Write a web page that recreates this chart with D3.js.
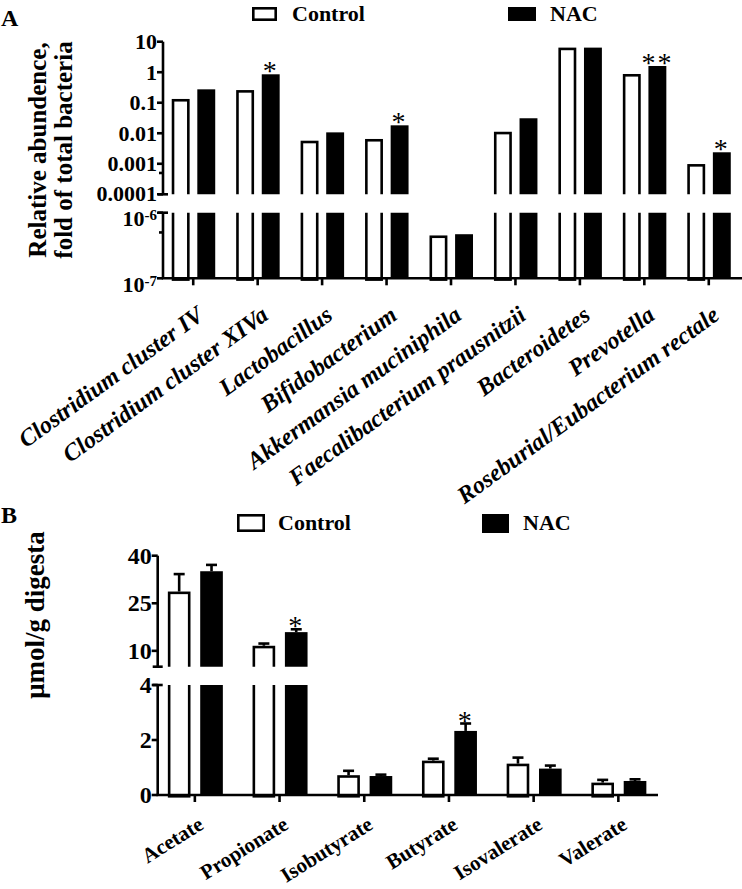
<!DOCTYPE html>
<html>
<head>
<meta charset="utf-8">
<script src="https://cdn.jsdelivr.net/npm/d3@7"></script>
<style>
  html, body { margin: 0; padding: 0; background: #fff; }
  svg { display: block; }
  text { font-family: "Liberation Serif", "Times New Roman", serif; font-weight: bold; fill: #000; }
</style>
</head>
<body>
<svg id="chart" width="742" height="889"></svg>
<script>
// ---------------- DATA ----------------
const groups = ["Control", "NAC"];

// Panel A
const bacteria = ["Clostridium cluster IV", "Clostridium cluster XIVa", "Lactobacillus", "Bifidobacterium",
  "Akkermansia muciniphila", "Faecalibacterium prausnitzii", "Bacteroidetes", "Prevotella",
  "Roseburial/Eubacterium rectale"];
const bactControl = [0.133, 0.26, 0.0057, 0.0065, 4.5e-7, 0.0112, 6.4, 0.875, 0.00098];
const bactNAC     = [0.275, 0.855, 0.0107, 0.0182, 4.7e-7, 0.031, 6.4, 1.6, 0.00238];
const bactSig     = ["", "*", "", "*", "", "", "", "**", "*"];
const aUpperTicks = [10, 1, 0.1, 0.01, 0.001, 0.0001];
const aUpperTickLabels = ["10", "1", "0.1", "0.01", "0.001", "0.0001"];
const aLowerTicks = [1e-6, 1e-7];
const aLowerTickExp = ["-6", "-7"];
const aMinorTicks = [5e-4, 5e-7];

// Panel B
const acids = ["Acetate", "Propionate", "Isobutyrate", "Butyrate", "Isovalerate", "Valerate"];
const acidControl    = [28.7, 11.6, 0.72, 1.25, 1.14, 0.45];
const acidControlErr = [5.5, 0.7, 0.16, 0.07, 0.22, 0.10];
const acidNAC        = [35.1, 15.9, 0.69, 2.33, 0.96, 0.51];
const acidNACErr     = [2.0, 0.9, 0.05, 0.27, 0.11, 0.06];
const acidSig        = ["", "*", "", "*", "", ""];
const bUpperTicks = [40, 25, 10];
const bLowerTicks = [4, 2, 0];

// ---------------- DRAW ----------------
const svg = d3.select("#chart");
svg.append("rect").attr("width", 742).attr("height", 889).attr("fill", "#fff");
const SW = 2.6; // line width

function drawPanel(opt) {
  const g = svg.append("g");
  const x = d3.scaleBand().domain(opt.cats).range(opt.xRange).paddingInner(0).paddingOuter(0);
  const sub = d3.scaleBand().domain(groups).range(opt.subRange).paddingInner(opt.subPad);
  const segs = opt.segs; // ordered bottom to top
  const axisY = segs[0].scale.range()[0];

  segs.forEach((s, i) => {
    const r = s.scale.range();
    const id = opt.id + "clip" + i;
    svg.append("clipPath").attr("id", id).append("rect")
      .attr("x", 0).attr("width", 742)
      .attr("y", r[1] - (i === segs.length - 1 ? 50 : 0))
      .attr("height", r[0] - r[1] + (i === segs.length - 1 ? 50 : 0) + (i === 0 ? 10 : 0));
    s.clip = id;
  });

  function bars(values, grp) {
    values.forEach((v, ci) => {
      const x0 = x(opt.cats[ci]) + x.bandwidth() / 2 + sub(grp);
      const bw = sub.bandwidth();
      segs.forEach((s, si) => {
        const [lo, hi] = s.scale.domain();
        if (v <= lo && si > 0) return;
        const r = s.scale.range();
        const closed = v <= hi;
        const top = closed ? s.scale(v) : r[1] - 20;
        const bottom = si === 0 ? r[0] : r[0] + 20;
        const cg = g.append("g").attr("clip-path", `url(#${s.clip})`);
        if (grp === "NAC") {
          cg.append("rect").attr("x", x0).attr("width", bw)
            .attr("y", top).attr("height", bottom - top).attr("fill", "#000");
        } else {
          cg.append("rect").attr("x", x0 + SW / 2).attr("width", bw - SW)
            .attr("y", top + SW / 2).attr("height", bottom - top)
            .attr("fill", "#fff").attr("stroke", "#000").attr("stroke-width", SW);
        }
      });
    });
  }
  bars(opt.control, "Control");
  bars(opt.nac, "NAC");

  function errs(values, errv, grp) {
    if (!errv) return;
    values.forEach((v, ci) => {
      const cx = x(opt.cats[ci]) + x.bandwidth() / 2 + sub(grp) + sub.bandwidth() / 2;
      const s = segs.find(s => v > s.scale.domain()[0] && v <= s.scale.domain()[1]);
      const y0 = s.scale(v), y1 = s.scale(v + errv[ci]);
      g.append("line").attr("x1", cx).attr("x2", cx).attr("y1", y0).attr("y2", y1)
        .attr("stroke", "#000").attr("stroke-width", SW);
      g.append("line").attr("x1", cx - opt.capW / 2).attr("x2", cx + opt.capW / 2)
        .attr("y1", y1).attr("y2", y1).attr("stroke", "#000").attr("stroke-width", SW);
    });
  }
  errs(opt.control, opt.controlErr, "Control");
  errs(opt.nac, opt.nacErr, "NAC");

  opt.sig.forEach((t, ci) => {
    if (!t) return;
    const v = opt.nac[ci] + (opt.nacErr ? opt.nacErr[ci] : 0);
    const s = segs.find(s => v > s.scale.domain()[0] && v <= s.scale.domain()[1]);
    const cx = x(opt.cats[ci]) + x.bandwidth() / 2 + sub("NAC") + sub.bandwidth() / 2;
    g.append("text").attr("x", cx).attr("y", s.scale(v) + opt.sigDy)
      .attr("text-anchor", "middle").style("font-size", opt.sigSize + "px")
      .style("font-weight", "normal").style("letter-spacing", "2px").text(t);
  });

  segs.forEach((s, si) => {
    const r = s.scale.range();
    g.append("line").attr("x1", opt.axisX).attr("x2", opt.axisX).attr("y1", r[0]).attr("y2", r[1])
      .attr("stroke", "#000").attr("stroke-width", SW);
    if (si > 0) g.append("line").attr("x1", opt.axisX - 5).attr("x2", opt.axisX + 5)
      .attr("y1", r[0]).attr("y2", r[0]).attr("stroke", "#000").attr("stroke-width", SW);
    if (si < segs.length - 1) g.append("line").attr("x1", opt.axisX - 5).attr("x2", opt.axisX + 5)
      .attr("y1", r[1]).attr("y2", r[1]).attr("stroke", "#000").attr("stroke-width", SW);
    s.ticks.forEach((tv, ti) => {
      const y = s.scale(tv);
      g.append("line").attr("x1", opt.axisX - 6).attr("x2", opt.axisX).attr("y1", y).attr("y2", y)
        .attr("stroke", "#000").attr("stroke-width", SW);
      const t = g.append("text").attr("x", opt.axisX - 6).attr("y", y)
        .attr("dy", s.exps ? "0.6em" : (s.labels && ti === s.ticks.length - 1 ? "0.3em" : "0.34em"))
        .attr("text-anchor", "end").style("font-size", opt.tickSize + "px");
      if (s.exps) {
        t.append("tspan").text("10");
        t.append("tspan").attr("dy", "-0.4em").style("font-size", "15px").text(s.exps[ti]);
      } else {
        t.text(s.labels ? s.labels[ti] : tv);
      }
    });
    (s.minor || []).forEach(mv => {
      const y = s.scale(mv);
      g.append("line").attr("x1", opt.axisX - 4).attr("x2", opt.axisX).attr("y1", y).attr("y2", y)
        .attr("stroke", "#000").attr("stroke-width", SW);
    });
  });

  g.append("line").attr("x1", opt.axisX - SW / 2).attr("x2", opt.xAxisEnd).attr("y1", axisY).attr("y2", axisY)
    .attr("stroke", "#000").attr("stroke-width", SW);
  opt.cats.forEach(c => {
    const cx = x(c) + x.bandwidth() / 2;
    g.append("line").attr("x1", cx).attr("x2", cx).attr("y1", axisY).attr("y2", axisY + 7)
      .attr("stroke", "#000").attr("stroke-width", SW);
    g.append("text").attr("transform", `translate(${cx + opt.labDx},${axisY + opt.labDy}) rotate(${opt.labRot})`)
      .attr("text-anchor", "end").style("font-size", opt.labSize + "px")
      .style("font-style", opt.italic ? "italic" : "normal").text(c);
  });

  opt.legend.forEach(l => {
    if (l.grp === "NAC") {
      g.append("rect").attr("x", l.bx).attr("y", l.by).attr("width", l.bw).attr("height", l.bh).attr("fill", "#000");
    } else {
      g.append("rect").attr("x", l.bx + SW / 2).attr("y", l.by + SW / 2).attr("width", l.bw - SW)
        .attr("height", l.bh - SW).attr("fill", "#fff").attr("stroke", "#000").attr("stroke-width", SW);
    }
    g.append("text").attr("x", l.tx).attr("y", l.ty).style("font-size", "22px").text(l.grp);
  });

  g.append("text").attr("x", 1).attr("y", opt.letterY).style("font-size", "24px").text(opt.letter);

  opt.yTitle.forEach(t => {
    g.append("text").attr("transform", `translate(${t.x},${t.y}) rotate(-90)`)
      .attr("text-anchor", "middle").style("font-size", t.size + "px").text(t.text);
  });
}

// Panel A
drawPanel({
  id: "A",
  cats: bacteria,
  xRange: [161, 741],
  subRange: [-21.5, 22],
  subPad: 0.3,
  segs: [
    { scale: d3.scaleLog().domain([1e-7, 1e-6]).range([278.3, 212.7]), ticks: aLowerTicks, exps: aLowerTickExp, minor: [aMinorTicks[1]] },
    { scale: d3.scaleLog().domain([1e-4, 10]).range([194.3, 41.7]), ticks: aUpperTicks, labels: aUpperTickLabels, minor: [aMinorTicks[0]] }
  ],
  control: bactControl, nac: bactNAC, sig: bactSig,
  capW: 10, sigDy: 6, sigSize: 28,
  axisX: 163, xAxisEnd: 742, tickSize: 22,
  labDx: 12, labDy: 40, labRot: -36, labSize: 24, italic: true,
  legend: [
    { grp: "Control", bx: 252, by: 7, bw: 25, bh: 14, tx: 292, ty: 21 },
    { grp: "NAC", bx: 508, by: 7, bw: 28, bh: 14, tx: 550, ty: 21 }
  ],
  letter: "A", letterY: 26,
  yTitle: [
    { text: "Relative abundence,", x: 46, y: 150, size: 25 },
    { text: "fold of total bacteria", x: 72, y: 150, size: 25 }
  ]
});

// Panel B
drawPanel({
  id: "B",
  cats: acids,
  xRange: [152.5, 660.7],
  subRange: [-27, 28],
  subPad: 0.3,
  segs: [
    { scale: d3.scaleLinear().domain([0, 4]).range([795, 685]), ticks: bLowerTicks },
    { scale: d3.scaleLinear().domain([5, 40]).range([666.7, 555.7]), ticks: bUpperTicks }
  ],
  control: acidControl, controlErr: acidControlErr, nac: acidNAC, nacErr: acidNACErr, sig: acidSig,
  capW: 11, sigDy: 6, sigSize: 28,
  axisX: 157.7, xAxisEnd: 658, tickSize: 24,
  labDx: 10, labDy: 33, labRot: -32, labSize: 21, italic: false,
  legend: [
    { grp: "Control", bx: 237, by: 514, bw: 28, bh: 18, tx: 278, ty: 530 },
    { grp: "NAC", bx: 482, by: 514, bw: 27, bh: 19, tx: 523, ty: 530 }
  ],
  letter: "B", letterY: 523,
  yTitle: [
    { text: "\u03bcmol/g digesta", x: 44, y: 615, size: 27 }
  ]
});
</script>
</body>
</html>
